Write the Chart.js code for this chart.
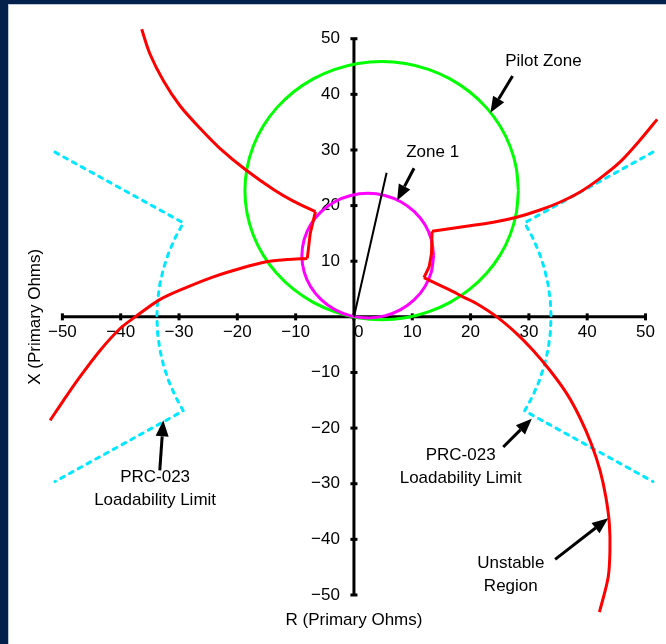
<!DOCTYPE html>
<html>
<head>
<meta charset="utf-8">
<script src="https://cdn.jsdelivr.net/npm/chart.js@4.4.1/dist/chart.umd.min.js"></script>
<style>
  html, body { margin: 0; padding: 0; width: 666px; height: 644px; overflow: hidden; background: #03214a; }
  #sheet { position: absolute; left: 8px; top: 4px; right: 0; bottom: 0; background: #ffffff;
           border-left: 1px solid #b9c6dc; border-top: 1px solid #b9c6dc; }
  #wrap { position: absolute; left: 0; top: 0; width: 666px; height: 644px; }
</style>
</head>
<body>
<div id="sheet"></div>
<div id="wrap"><canvas id="c" width="666" height="644"></canvas></div>
<script>
// Axis tick values (ohms) shared by the R and X axes
const axisTicks = [-50, -40, -30, -20, -10, 0, 10, 20, 30, 40, 50];

// Pilot Zone mho characteristic (R, X in primary ohms)
const pilotR = [28.2, 27.84, 26.79, 25.06, 22.71, 19.82, 16.48, 12.77, 8.82, 4.75, 0.68, -3.27, -6.98,
  -10.32, -13.21, -15.56, -17.29, -18.34, -18.7, -18.34, -17.29, -15.56, -13.21, -10.32, -6.98, -3.27,
  0.68, 4.75, 8.82, 12.77, 16.48, 19.82, 22.71, 25.06, 26.79, 27.84, 28.2];
const pilotX = [22.7, 26.73, 30.63, 34.3, 37.61, 40.47, 42.79, 44.5, 45.55, 45.9, 45.55, 44.5, 42.79,
  40.47, 37.61, 34.3, 30.63, 26.73, 22.7, 18.67, 14.77, 11.1, 7.79, 4.93, 2.61, 0.9,
  -0.15, -0.5, -0.15, 0.9, 2.61, 4.93, 7.79, 11.1, 14.77, 18.67, 22.7];

// Zone 1 mho characteristic
const zone1R = [13.67, 13.28, 12.16, 10.36, 8.02, 5.29, 2.37, -0.55, -3.28, -5.62, -7.42, -8.54, -8.93,
  -8.54, -7.42, -5.62, -3.28, -0.55, 2.37, 5.29, 8.02, 10.36, 12.16, 13.28, 13.67];
const zone1X = [11.0, 13.9, 16.6, 18.92, 20.7, 21.82, 22.2, 21.82, 20.7, 18.92, 16.6, 13.9, 11.0,
  8.1, 5.4, 3.08, 1.3, 0.18, -0.2, 0.18, 1.3, 3.08, 5.4, 8.1, 11.0];

// Zone 1 line angle
const reachR = [0, 5.6];
const reachX = [0, 25.9];

// Unstable region boundary, left side
const leftUpperR = [-36.4, -35.0, -32.7, -29.8, -26.4, -23.0, -18.4, -13.8, -10.4, -6.6];
const leftUpperX = [51.7, 47.3, 42.5, 37.9, 33.9, 30.3, 26.3, 22.9, 20.8, 18.9];
const leftJogR = [-6.6, -7.5, -8.0];
const leftJogX = [18.9, 15.0, 10.5];
const leftLowerR = [-8.0, -11.5, -15.0, -19.5, -24.1, -28.7, -33.3, -37.5, -40.1, -43.5, -47.0, -49.8, -52.1];
const leftLowerX = [10.5, 10.3, 9.9, 8.7, 7.2, 5.3, 3.1, 0.0, -2.1, -6.0, -10.8, -15.0, -18.6];

// Unstable region boundary, right side
const rightUpperR = [52.0, 49.0, 45.6, 42.2, 38.7, 35.3, 31.9, 27.9, 23.9, 19.3, 13.4];
const rightUpperX = [35.5, 31.7, 27.8, 24.9, 22.4, 20.6, 19.2, 17.9, 17.0, 16.3, 15.4];
const rightJogR = [13.4, 13.3, 12.9, 12.0];
const rightJogX = [15.4, 11.4, 9.0, 7.05];
const rightLowerR = [12.0, 16.5, 18.7, 21.0, 24.5, 27.9, 30.7, 33.6, 36.5, 38.7, 40.7, 42.2, 43.2, 43.8, 43.9, 43.6, 42.1];
const rightLowerX = [7.05, 4.8, 3.6, 2.4, 0.0, -3.0, -6.0, -9.6, -13.8, -18.0, -22.8, -27.6, -32.4, -37.2, -42.0, -46.8, -53.1];

// PRC-023 loadability limits
const limitLeftR = [-51.27, -29.27, -30.63, -31.76, -32.65, -33.29, -33.67, -33.8, -33.67, -33.29, -32.65, -31.76, -30.63, -29.27, -51.27];
const limitRightR = [51.27, 29.27, 30.63, 31.76, 32.65, 33.29, 33.67, 33.8, 33.67, 33.29, 32.65, 31.76, 30.63, 29.27, 51.27];
const limitX = [29.6, 16.9, 14.28, 11.56, 8.75, 5.87, 2.95, 0, -2.95, -5.87, -8.75, -11.56, -14.28, -16.9, -29.6];

// Callout labels: text lines, text centre, arrow tail and tip (R, X)
const callouts = [
  { lines: ['Pilot Zone'], at: [32.5, 46.0], tail: [27.2, 43.3], tip: [23.4, 36.7] },
  { lines: ['Zone 1'], at: [13.5, 29.6], tail: [10.3, 26.7], tip: [7.4, 20.9] },
  { lines: ['PRC-023', 'Loadability Limit'], at: [18.3, -24.9], tail: [25.6, -23.4], tip: [30.5, -18.3] },
  { lines: ['PRC-023', 'Loadability Limit'], at: [-34.1, -28.8], tail: [-33.3, -27.6], tip: [-32.7, -18.6] },
  { lines: ['Unstable', 'Region'], at: [26.9, -44.3], tail: [34.5, -43.6], tip: [43.6, -36.2] }
];

const xTitle = 'R (Primary Ohms)';
const yTitle = 'X (Primary Ohms)';

const FONT = '"Liberation Sans", Arial, Helvetica, sans-serif';
const FONT_SIZE = 17;

const pts = (r, x) => r.map((v, i) => ({ x: v, y: x[i] }));
const fmt = v => (v < 0 ? '\u2212' + Math.abs(v) : String(v));

function curve(r, x, color, width, extra) {
  return Object.assign({
    data: pts(r, x), showLine: true, borderColor: color, borderWidth: width,
    pointRadius: 0, pointHoverRadius: 0, fill: false, tension: 0
  }, extra || {});
}

const RED = '#ff0000', GREEN = '#00ff00', MAGENTA = '#ff00ff', CYAN = '#00e8ff';

function arrow(ctx, x1, y1, x2, y2) {
  const a = Math.atan2(y2 - y1, x2 - x1);
  const head = 16, half = 6.5;
  const bx = x2 - head * Math.cos(a), by = y2 - head * Math.sin(a);
  ctx.lineWidth = 3;
  ctx.beginPath(); ctx.moveTo(x1, y1); ctx.lineTo(bx, by); ctx.stroke();
  ctx.beginPath();
  ctx.moveTo(x2, y2);
  ctx.lineTo(bx + half * Math.sin(a), by - half * Math.cos(a));
  ctx.lineTo(bx - half * Math.sin(a), by + half * Math.cos(a));
  ctx.closePath(); ctx.fill();
}

// Crossed axes through the origin, with centred tick marks, plus titles and callouts
const impedancePlane = {
  id: 'impedancePlane',
  beforeDatasetsDraw(chart) {
    const { ctx, scales: { x, y } } = chart;
    const x0 = x.getPixelForValue(0), y0 = y.getPixelForValue(0);
    const lo = axisTicks[0], hi = axisTicks[axisTicks.length - 1];
    ctx.save();
    ctx.strokeStyle = '#000'; ctx.fillStyle = '#000'; ctx.lineWidth = 3;
    ctx.beginPath();
    ctx.moveTo(x.getPixelForValue(lo), y0); ctx.lineTo(x.getPixelForValue(hi), y0);
    ctx.moveTo(x0, y.getPixelForValue(lo)); ctx.lineTo(x0, y.getPixelForValue(hi));
    ctx.stroke();
    axisTicks.forEach(v => {
      const px = x.getPixelForValue(v), py = y.getPixelForValue(v);
      ctx.fillRect(px - 1.5, y0 - 3.5, 3, 7);
      ctx.fillRect(x0 - 3.5, py - 1.5, 7, 3);
    });
    ctx.restore();
  },
  afterDatasetsDraw(chart) {
    const { ctx, scales: { x, y } } = chart;
    ctx.save();
    ctx.fillStyle = '#000'; ctx.strokeStyle = '#000';
    ctx.font = FONT_SIZE + 'px ' + FONT;
    ctx.textAlign = 'center'; ctx.textBaseline = 'middle';
    callouts.forEach(c => {
      const cx = x.getPixelForValue(c.at[0]), cy = y.getPixelForValue(c.at[1]);
      c.lines.forEach((t, i) => ctx.fillText(t, cx, cy + i * 22.8));
      arrow(ctx, x.getPixelForValue(c.tail[0]), y.getPixelForValue(c.tail[1]),
                 x.getPixelForValue(c.tip[0]), y.getPixelForValue(c.tip[1]));
    });
    ctx.fillText(xTitle, x.getPixelForValue(0), 620);
    ctx.translate(35, y.getPixelForValue(0));
    ctx.rotate(-Math.PI / 2);
    ctx.fillText(yTitle, 0, 0);
    ctx.restore();
  }
};

const tickFont = { family: FONT, size: FONT_SIZE };
const noEdgePadding = s => { s.paddingTop = 0; s.paddingBottom = 0; s.paddingLeft = 0; s.paddingRight = 0; };

new Chart(document.getElementById('c'), {
  type: 'scatter',
  data: {
    datasets: [
      curve(leftUpperR, leftUpperX, RED, 3, { tension: 0.3 }),
      curve(leftJogR, leftJogX, RED, 3),
      curve(leftLowerR, leftLowerX, RED, 3, { tension: 0.3 }),
      curve(rightUpperR, rightUpperX, RED, 3, { tension: 0.3 }),
      curve(rightJogR, rightJogX, RED, 3),
      curve(rightLowerR, rightLowerX, RED, 3, { tension: 0.3 }),
      curve(reachR, reachX, '#000000', 2),
      curve(zone1R, zone1X, MAGENTA, 3, { tension: 0.3 }),
      curve(limitLeftR, limitX, CYAN, 3, { borderDash: [4, 6], borderCapStyle: 'round' }),
      curve(limitRightR, limitX, CYAN, 3, { borderDash: [4, 6], borderCapStyle: 'round' }),
      curve(pilotR, pilotX, GREEN, 3, { tension: 0.3 })
    ]
  },
  options: {
    responsive: false,
    devicePixelRatio: 1,
    animation: false,
    events: [],
    layout: { padding: { left: 44.9, right: 3, top: 16.45, bottom: 21.2 } },
    plugins: { legend: { display: false }, tooltip: { enabled: false } },
    scales: {
      x: {
        type: 'linear', min: -53, max: 53, position: { y: 0 },
        afterBuildTicks: s => { s.ticks = axisTicks.map(v => ({ value: v })); },
        afterFit: noEdgePadding,
        grid: { display: false }, border: { display: false },
        ticks: { color: '#000', font: tickFont, padding: -3, autoSkip: false, maxRotation: 0,
                 callback: v => (v === 0 ? '\u20070' : fmt(v)) }
      },
      y: {
        // labels sit just left of the vertical axis
        type: 'linear', min: -55, max: 54, position: { x: -2.4 },
        afterBuildTicks: s => { s.ticks = axisTicks.map(v => ({ value: v })); },
        afterFit: noEdgePadding,
        grid: { display: false }, border: { display: false },
        ticks: { color: '#000', font: tickFont, padding: 0, autoSkip: false,
                 callback: v => (v === 0 ? '' : fmt(v)) }
      }
    }
  },
  plugins: [impedancePlane]
});
</script>
</body>
</html>
